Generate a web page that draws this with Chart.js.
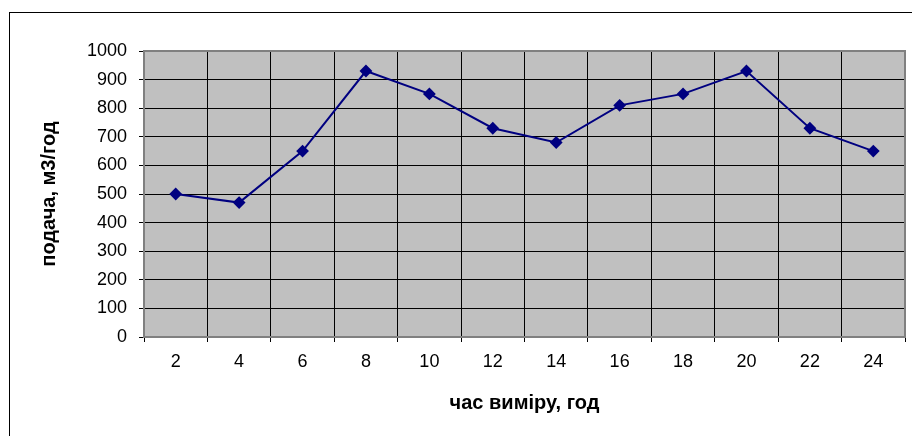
<!DOCTYPE html>
<html>
<head>
<meta charset="utf-8">
<script src="https://cdn.jsdelivr.net/npm/chart.js@4"></script>
<style>
    body { margin: 0; background: #fff; }
    canvas { display: block; }
</style>
</head>
<body>
<canvas id="myChart" width="912" height="436"></canvas>
<script>
const hours = ['2', '4', '6', '8', '10', '12', '14', '16', '18', '20', '22', '24'];
const flow = [500, 470, 650, 930, 850, 730, 680, 810, 850, 930, 730, 650];
const yMin = 0;
const yMax = 1000;
const yStep = 100;

const fontFamily = "'Liberation Sans', Arial, sans-serif";

const plotFrame = {
    id: 'plotFrame',
    beforeDraw(chart) {
        const { ctx, chartArea: a } = chart;
        ctx.save();
        ctx.fillStyle = '#c0c0c0';
        ctx.fillRect(a.left, a.top, a.right - a.left, a.bottom - a.top);
        ctx.restore();
    },
    beforeDatasetsDraw(chart) {
        const { ctx, chartArea: a } = chart;
        ctx.save();
        ctx.strokeStyle = '#808080';
        ctx.lineWidth = 2;
        ctx.strokeRect(a.left, a.top, a.right - a.left, a.bottom - a.top);
        ctx.restore();
    },
    afterDraw(chart) {
        const ctx = chart.ctx;
        ctx.save();
        ctx.strokeStyle = '#000';
        ctx.lineWidth = 1;
        ctx.strokeRect(9.5, 12.5, 1000, 1000);
        ctx.restore();
    }
};

const ctx = document.getElementById('myChart').getContext('2d');
new Chart(ctx, {
    type: 'line',
    data: {
        labels: hours,
        datasets: [{
            data: flow,
            borderColor: '#000080',
            backgroundColor: '#000080',
            borderWidth: 2,
            pointStyle: 'rectRot',
            pointRadius: 5,
            pointHoverRadius: 5,
            tension: 0,
            fill: false
        }]
    },
    options: {
        responsive: false,
        animation: false,
        devicePixelRatio: 1,
        layout: { padding: { top: 51, right: 6, left: 0, bottom: 0 } },
        plugins: {
            legend: { display: false },
            tooltip: { enabled: false }
        },
        scales: {
            x: {
                offset: true,
                grid: {
                    offset: true,
                    color: '#000',
                    lineWidth: 1,
                    tickLength: 5,
                    drawTicks: true
                },
                border: { display: false },
                ticks: {
                    color: '#000',
                    padding: 9,
                    font: { family: fontFamily, size: 18 }
                },
                title: {
                    display: true,
                    text: 'час виміру, год',
                    color: '#000',
                    padding: { top: 0, bottom: 21 },
                    font: { family: fontFamily, size: 20, weight: 'bold' }
                },
                afterFit(scale) { scale.height = 99; }
            },
            y: {
                min: yMin,
                max: yMax,
                grid: {
                    color: '#000',
                    lineWidth: 1,
                    tickLength: 5
                },
                border: { display: false },
                ticks: {
                    stepSize: yStep,
                    color: '#000',
                    padding: 12,
                    font: { family: fontFamily, size: 18 },
                    callback: value => String(value)
                },
                title: {
                    display: true,
                    text: 'подача, м3/год',
                    color: '#000',
                    padding: { top: 37, bottom: 0 },
                    font: { family: fontFamily, size: 20, weight: 'bold' }
                },
                afterFit(scale) { scale.width = 144; }
            }
        }
    },
    plugins: [plotFrame]
});
</script>
</body>
</html>
